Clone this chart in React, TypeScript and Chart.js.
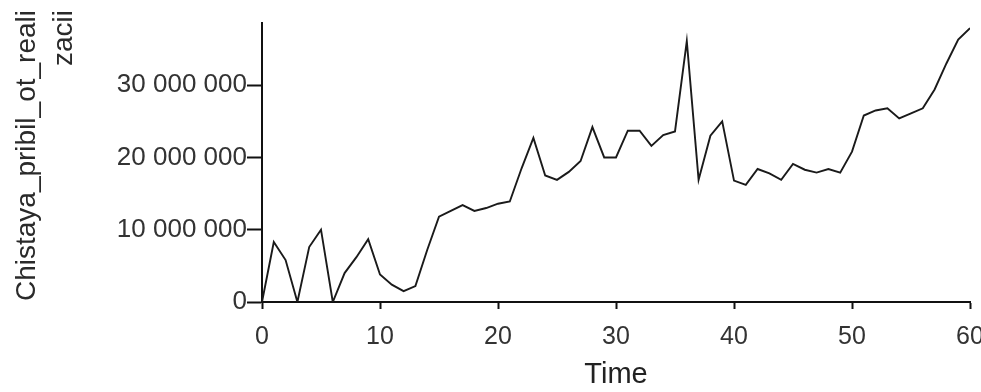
import React, { useEffect, useRef } from 'react';
import { Chart, registerables } from 'chart.js';

Chart.register(...registerables);

const times = [
  0, 1, 2, 3, 4, 5, 6, 7, 8, 9, 10, 11, 12, 13, 14, 15, 16, 17, 18, 19, 20,
  21, 22, 23, 24, 25, 26, 27, 28, 29, 30, 31, 32, 33, 34, 35, 36, 37, 38, 39, 40,
  41, 42, 43, 44, 45, 46, 47, 48, 49, 50, 51, 52, 53, 54, 55, 56, 57, 58, 59, 60,
];

const profit = [
  0, 8300000, 5800000, 0, 7600000, 10000000, 0, 4000000, 6200000, 8700000, 3800000,
  2400000, 1500000, 2200000, 7200000, 11800000, 12600000, 13400000, 12600000, 13000000, 13600000,
  13900000, 18500000, 22700000, 17500000, 16900000, 18000000, 19500000, 24200000, 20000000, 20000000,
  23700000, 23700000, 21600000, 23100000, 23600000, 36100000, 16900000, 23000000, 25000000, 16800000,
  16200000, 18400000, 17800000, 16900000, 19100000, 18300000, 17900000, 18400000, 17900000, 20800000,
  25800000, 26500000, 26800000, 25400000, 26100000, 26800000, 29400000, 33000000, 36300000, 37900000,
];

const xTicks = [0, 10, 20, 30, 40, 50, 60];
const yTicks = [0, 10000000, 20000000, 30000000];
const yTickLabels = ['0', '10 000 000', '20 000 000', '30 000 000'];
const yTitleLines = ['Chistaya_pribil_ot_reali', 'zacii'];
const xTitle = 'Time';

const FONT = '"Liberation Sans", Arial, sans-serif';

const yTitlePlugin = {
  id: 'yTitlePlugin',
  afterDraw(chart: any) {
    const ctx = chart.ctx;
    ctx.save();
    ctx.fillStyle = '#2a2a2a';
    ctx.font = `28px ${FONT}`;
    ctx.textAlign = 'right';
    ctx.textBaseline = 'alphabetic';
    ctx.rotate(-Math.PI / 2);
    const baselines = [35, 72];
    yTitleLines.forEach((line, i) => {
      ctx.fillText(line, -10, baselines[i]);
    });
    ctx.restore();
  },
};

export default function App() {
  const ref = useRef<HTMLCanvasElement | null>(null);

  useEffect(() => {
    if (!ref.current) return;
    const chart = new Chart(ref.current, {
      type: 'line',
      data: {
        datasets: [
          {
            data: times.map((t, i) => ({ x: t, y: profit[i] })),
            borderColor: '#1a1a1a',
            borderWidth: 1.9,
            pointRadius: 0,
            tension: 0,
            fill: false,
          },
        ],
      },
      plugins: [yTitlePlugin],
      options: {
        responsive: false,
        animation: false,
        layout: { padding: { left: 0, right: 11, top: 23, bottom: 0 } },
        plugins: { legend: { display: false }, tooltip: { enabled: false } },
        scales: {
          x: {
            type: 'linear',
            position: 'bottom',
            min: 0,
            max: 60,
            afterBuildTicks: (s: any) => {
              s.ticks = xTicks.map((v) => ({ value: v }));
            },
            afterFit: (s: any) => {
              s.height = 90;
              s.paddingLeft = 0;
              s.paddingRight = 0;
            },
            border: { display: true, color: '#111', width: 2 },
            grid: {
              display: true,
              drawOnChartArea: false,
              drawTicks: true,
              tickLength: 7,
              tickWidth: 2,
              tickColor: '#111',
            },
            ticks: {
              font: { family: FONT, size: 25 },
              color: '#333',
              padding: 13,
              maxRotation: 0,
              autoSkip: false,
              callback: (v: any) => String(v),
            },
            title: {
              display: true,
              text: xTitle,
              font: { family: FONT, size: 29 },
              color: '#222',
              padding: { top: 0, bottom: 0 },
            },
          },
          y: {
            type: 'linear',
            min: 0,
            max: 38600000,
            afterBuildTicks: (s: any) => {
              s.ticks = yTicks.map((v) => ({ value: v }));
            },
            afterFit: (s: any) => {
              s.width = 262;
              s.paddingTop = 0;
              s.paddingBottom = 0;
            },
            border: { display: true, color: '#111', width: 2 },
            grid: {
              display: true,
              drawOnChartArea: false,
              drawTicks: true,
              tickLength: 15,
              tickWidth: 2,
              tickColor: '#111',
            },
            ticks: {
              font: { family: FONT, size: 26 },
              color: '#333',
              padding: 0,
              autoSkip: false,
              callback: (v: any) => {
                const i = yTicks.indexOf(Number(v));
                return i >= 0 ? yTickLabels[i] : '';
              },
            },
          },
        },
      },
    } as any);
    return () => chart.destroy();
  }, []);

  return (
    <div style={{ position: 'fixed', left: 0, top: 0, width: 981, height: 392, background: '#fff' }}>
      <canvas ref={ref} width={981} height={392} style={{ display: 'block', width: 981, height: 392 }} />
    </div>
  );
}
